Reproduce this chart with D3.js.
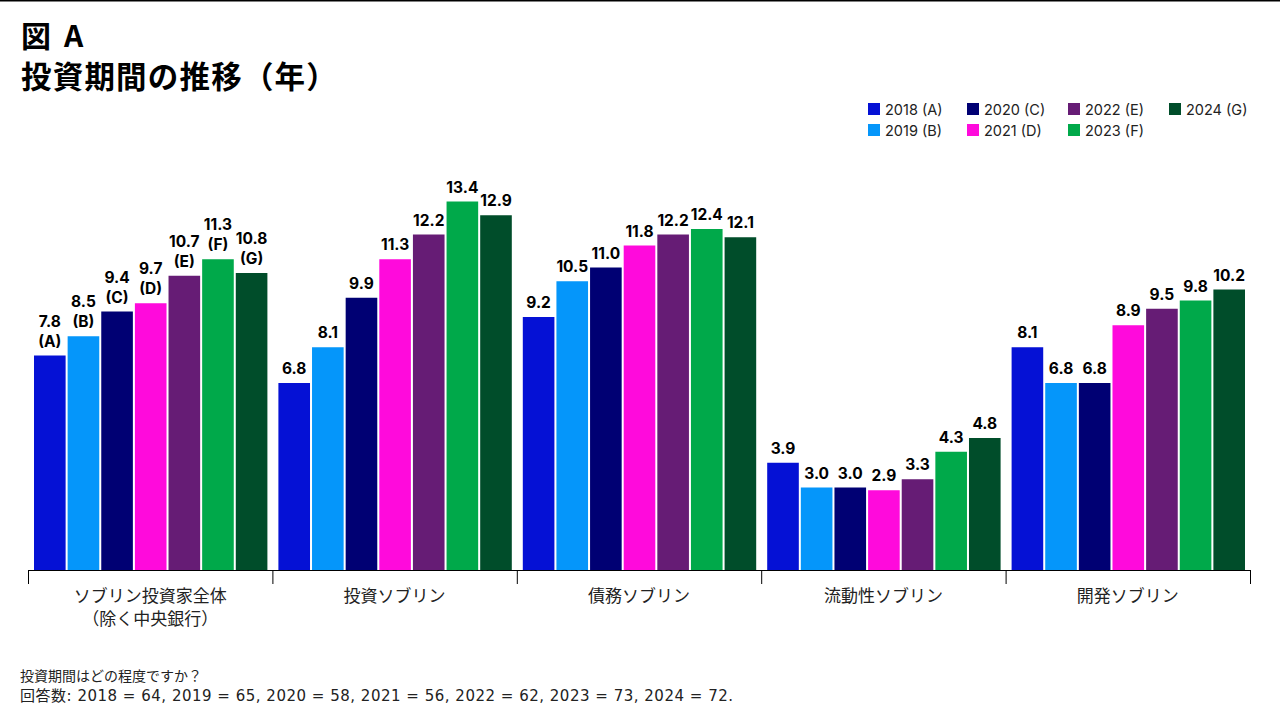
<!DOCTYPE html>
<html><head><meta charset="utf-8">
<script src="https://cdn.jsdelivr.net/npm/d3@7"></script>
<style>body{margin:0;background:#fff}svg{display:block}</style>
</head><body>
<svg id="c" width="1280" height="720"></svg>
<script>
const categories = [["ソブリン投資家全体","（除く中央銀行）"],["投資ソブリン"],["債務ソブリン"],["流動性ソブリン"],["開発ソブリン"]];
const years = ["2018 (A)","2019 (B)","2020 (C)","2021 (D)","2022 (E)","2023 (F)","2024 (G)"];
const letters = ["(A)","(B)","(C)","(D)","(E)","(F)","(G)"];
const colors = ["#0511D5","#0596FA","#000073","#FF0ADC","#661C75","#00A94A","#004D2A"];
const v2018 = [7.8, 6.8, 9.2, 3.9, 8.1];
const v2019 = [8.5, 8.1, 10.5, 3.0, 6.8];
const v2020 = [9.4, 9.9, 11.0, 3.0, 6.8];
const v2021 = [9.7, 11.3, 11.8, 2.9, 8.9];
const v2022 = [10.7, 12.2, 12.2, 3.3, 9.5];
const v2023 = [11.3, 13.4, 12.4, 4.3, 9.8];
const v2024 = [10.8, 12.9, 12.1, 4.8, 10.2];
const series = [v2018, v2019, v2020, v2021, v2022, v2023, v2024];

const svg = d3.select("#c");
const sans = "Inter, 'Noto Sans', sans-serif";
const cjk = "'Noto Sans CJK JP', sans-serif";

// top border
svg.append("rect").attr("x",0).attr("y",0).attr("width",1280).attr("height",1.5).attr("fill","#000");

// title
svg.append("text").attr("x",21).attr("y",47).attr("font-family",cjk).attr("font-weight",700).attr("font-size",30).text("図");
svg.append("text").attr("x",64).attr("y",47).attr("font-family",cjk).attr("font-weight",700).attr("font-size",30).text("A");
svg.append("text").attr("x",21).attr("y",88).attr("font-family",cjk).attr("font-weight",700).attr("font-size",30.5).attr("letter-spacing",1.2).text("投資期間の推移（年）");

const baseY = 570;
const x0 = d3.scaleBand().domain(d3.range(categories.length)).range([28,1250]).padding(0);
const x1 = d3.scaleBand().domain(d3.range(years.length)).range([6, x0.bandwidth()-5]).paddingInner(0.06).paddingOuter(0);
const y = d3.scaleLinear().domain([0, 14]).range([baseY, baseY - 14*27.5]);

const g = svg.append("g");
categories.forEach((cat, ci) => {
  const gg = g.append("g").attr("transform", `translate(${x0(ci)},0)`);
  series.forEach((vals, si) => {
    const v = vals[ci];
    gg.append("rect").attr("x", x1(si)).attr("y", y(v)).attr("width", x1.bandwidth()).attr("height", baseY - y(v)).attr("fill", colors[si]);
    const cx = x1(si) + x1.bandwidth()/2;
    if (ci === 0) {
      gg.append("text").attr("x",cx).attr("y",y(v)-9).attr("text-anchor","middle").attr("font-family",sans).attr("font-weight",700).attr("font-size",15.5).text(letters[si]);
      gg.append("text").attr("x",cx).attr("y",y(v)-29).attr("text-anchor","middle").attr("font-family",sans).attr("font-weight",700).attr("font-size",15.5).text(v.toFixed(1));
    } else {
      gg.append("text").attr("x",cx).attr("y",y(v)-9).attr("text-anchor","middle").attr("font-family",sans).attr("font-weight",700).attr("font-size",15.5).text(v.toFixed(1));
    }
  });
  cat.forEach((line, li) => {
    gg.append("text").attr("x", x0.bandwidth()/2).attr("y", 602 + li*23).attr("text-anchor","middle").attr("font-family",cjk).attr("font-size",17).attr("fill","#222").text(line);
  });
});

// axis
svg.append("line").attr("x1",28).attr("x2",1250).attr("y1",baseY+0.5).attr("y2",baseY+0.5).attr("stroke","#000").attr("stroke-width",1);
d3.range(categories.length+1).forEach(i => {
  const xx = i < categories.length ? x0(i) : 1250;
  svg.append("line").attr("x1",xx+0.5).attr("x2",xx+0.5).attr("y1",baseY).attr("y2",584).attr("stroke","#000");
});

// legend
const legCols = [868, 967, 1068, 1169];
const legendOrder = [0,2,4,6,1,3,5];
legendOrder.forEach((si, k) => {
  const row = k < 4 ? 0 : 1;
  const col = k < 4 ? k : k - 4;
  const lx = legCols[col], ly = 103 + row*21;
  svg.append("rect").attr("x",lx).attr("y",ly).attr("width",12).attr("height",12).attr("fill",colors[si]);
  svg.append("text").attr("x",lx+17).attr("y",ly+11.5).attr("font-family",sans).attr("font-size",14.5).attr("fill","#222").text(years[si]);
});

// footnote
svg.append("text").attr("x",20).attr("y",681).attr("font-family","'DejaVu Sans', 'Noto Sans CJK JP', sans-serif").attr("font-size",14).attr("fill","#222").text("投資期間はどの程度ですか？");
svg.append("text").attr("x",20).attr("y",701).attr("font-family","'DejaVu Sans', 'Noto Sans CJK JP', sans-serif").attr("font-size",15).attr("fill","#222")
  .attr("textLength",713).attr("lengthAdjust","spacing")
  .text("回答数: 2018 = 64, 2019 = 65, 2020 = 58, 2021 = 56, 2022 = 62, 2023 = 73, 2024 = 72.");
</script>
</body></html>
